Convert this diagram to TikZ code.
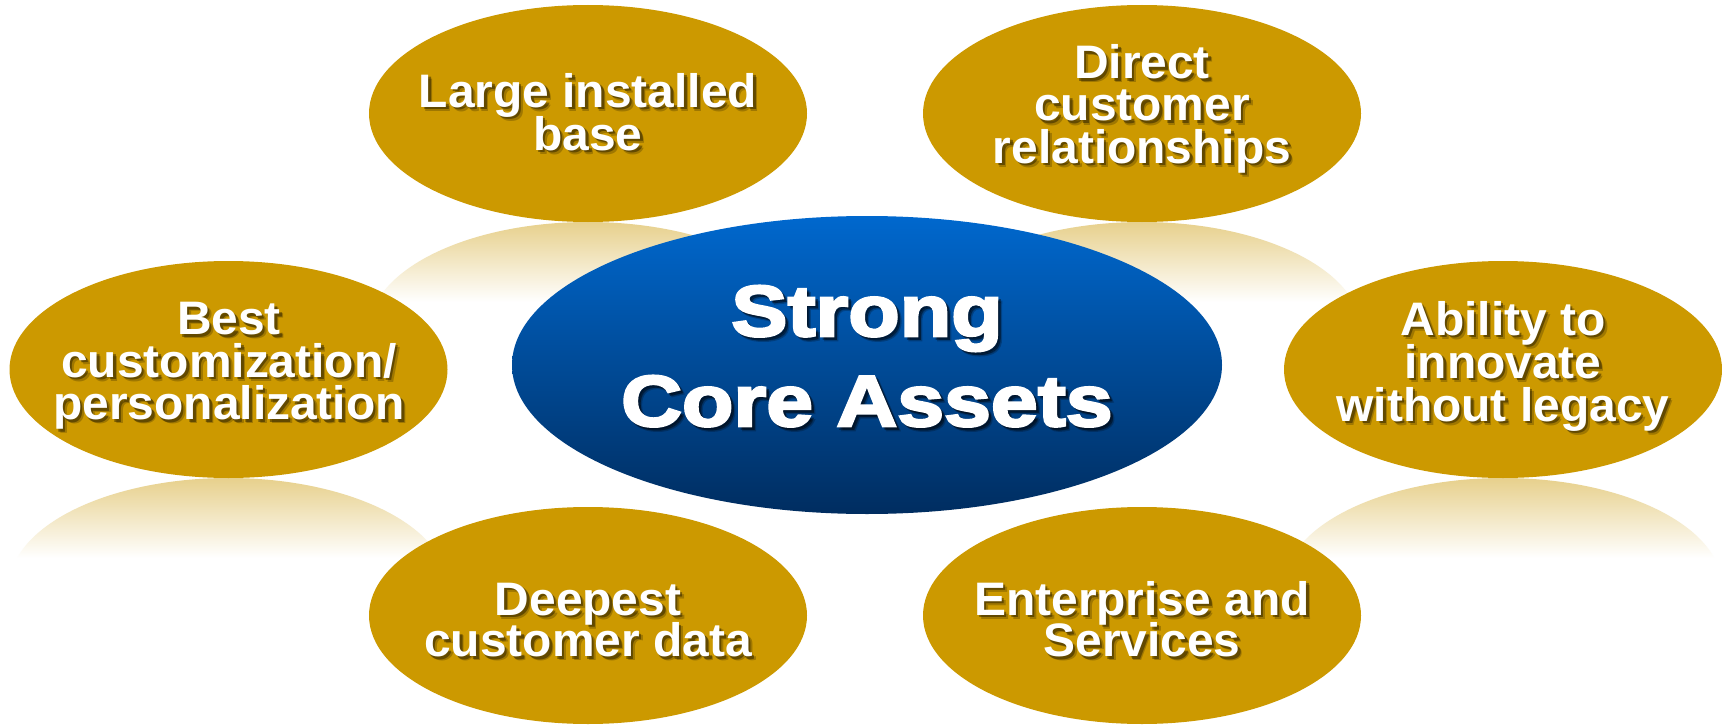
\documentclass[tikz,border=0pt]{standalone}
\usepackage{fontspec}
\setmainfont{Liberation Sans}
\newfontfamily\petalfont{Liberation Sans}[FakeStretch=1.02]
\newfontfamily\hubfont{Liberation Sans}[FakeStretch=1.17, FakeBold=3.5]
\usetikzlibrary{shapes.geometric}

\definecolor{petalgold}{RGB}{204,153,0}
\definecolor{mirrorgold}{RGB}{231,208,140}
\definecolor{hubtop}{RGB}{0,104,206}
\definecolor{hubbottom}{RGB}{0,45,96}

\tikzset{
  petal/.style={ellipse, fill=petalgold, inner sep=0pt,
    minimum width=438pt, minimum height=217pt},
  hub/.style={ellipse, top color=hubtop, bottom color=hubbottom, inner sep=0pt,
    minimum width=710pt, minimum height=298pt},
  petaltext/.style={anchor=base, inner sep=0pt, text=white,
    font=\petalfont\bfseries\fontsize{47}{47}\selectfont},
  hubtext/.style={anchor=base, inner sep=0pt, text=white,
    font=\hubfont\bfseries\fontsize{72}{72}\selectfont},
  softshadow/.style={text=black, text opacity=#1},
}

% one line of white lettering with a soft drop shadow
\newcommand{\litline}[5]{%
  \node[#1, softshadow=.22] (#2-s2) at (#3+4,#4+4) {#5};
  \node[#1, softshadow=.38] (#2-s1) at (#3+2.5,#4+2.5) {#5};
  \node[#1] (#2) at (#3,#4) {#5};
}

% faded mirror image hanging below an ellipse whose lower edge is at y = #2
\newcommand{\petalmirror}[2]{%
  \begin{scope}
    \clip (#1,#2+108.5) ellipse [x radius=219, y radius=108.5];
    \shade[top color=mirrorgold, bottom color=white]
      (#1-220,#2) rectangle (#1+220,#2+80);
  \end{scope}
}

\begin{document}
\begin{tikzpicture}[x=1pt, y=-1pt]
  \fill[white] (0,0) rectangle (1722,725);
  \useasboundingbox (0,0) rectangle (1722,725);

  % reflections
  \petalmirror{588}{222}
  \petalmirror{1142}{222}
  \petalmirror{228.5}{478}
  \petalmirror{1503}{478}

  % outer ellipses
  \node[petal] (base)    at (588,113.5)  {};
  \node[petal] (direct)  at (1142,113.5) {};
  \node[petal] (custom)  at (228.5,369.5) {};
  \node[petal] (innov)   at (1503,369.5) {};
  \node[petal] (data)    at (588,615.5)  {};
  \node[petal] (enterp)  at (1142,615.5) {};

  % central ellipse
  \node[hub] (core) at (867,365) {};

  % lettering
  \litline{petaltext}{base-1}{588}{107}{Large installed}
  \litline{petaltext}{base-2}{588}{150}{base}

  \litline{petaltext}{direct-1}{1142}{79}{Direct}
  \litline{petaltext}{direct-2}{1142}{121}{customer}
  \litline{petaltext}{direct-3}{1142}{163}{relationships}

  \litline{petaltext}{custom-1}{229}{334.5}{Best}
  \litline{petaltext}{custom-2}{229}{377}{customization/}
  \litline{petaltext}{custom-3}{229}{419.5}{personalization}

  \litline{petaltext}{innov-1}{1503}{335}{Ability to}
  \litline{petaltext}{innov-2}{1503}{378}{innovate}
  \litline{petaltext}{innov-3}{1503}{421}{without legacy}

  \litline{petaltext}{data-1}{588}{615}{Deepest}
  \litline{petaltext}{data-2}{588}{656.5}{customer data}

  \litline{petaltext}{enterp-1}{1142}{615}{Enterprise and}
  \litline{petaltext}{enterp-2}{1142}{656.5}{Services}

  \litline{hubtext}{core-1}{867}{336}{Strong}
  \litline{hubtext}{core-2}{867}{426}{Core Assets}
\end{tikzpicture}
\end{document}
